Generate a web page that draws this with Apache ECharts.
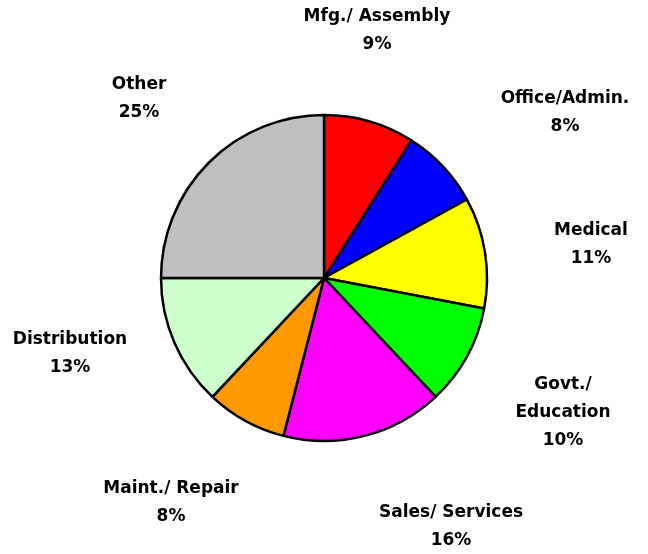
<!DOCTYPE html>
<html>
<head>
<meta charset="utf-8">
<script src="https://cdn.jsdelivr.net/npm/echarts@6/dist/echarts.min.js"></script>
<style>
    html, body { margin: 0; padding: 0; background: #fff; }
    #chart { width: 648px; height: 554px; }
</style>
</head>
<body>
<div id="chart"></div>
<script>
// sectors, clockwise from 12 o'clock
const categories = ['Mfg./ Assembly', 'Office/Admin.', 'Medical', 'Govt./\nEducation',
    'Sales/ Services', 'Maint./ Repair', 'Distribution', 'Other']
const shares = [9, 8, 11, 10, 16, 8, 13, 25]
const colors = ['#ff0000', '#0000ff', '#ffff00', '#00ff00', '#ff00ff', '#ff9900', '#ccffcc', '#c0c0c0']

// label centres (px)
const labelPos = [
    [377, 31], [565, 113], [591, 245], [563, 413],
    [451, 527], [171, 503], [70, 354], [139, 99]
]

const chart = echarts.init(document.getElementById('chart'))
const option = {
    animation: false,
    series: [{
        type: 'pie',
        center: [324, 278],
        radius: 163,
        startAngle: 90,
        clockwise: true,
        silent: true,
        itemStyle: {
            borderColor: '#000',
            borderWidth: 2.5
        },
        label: {
            show: true,
            formatter: p => p.name + '\n' + p.value + '%',
            fontFamily: 'DejaVu Sans, sans-serif',
            fontWeight: 'bold',
            fontSize: 17,
            lineHeight: 28,
            color: '#000',
            align: 'center'
        },
        labelLine: { show: false },
        labelLayout: params => ({
            x: labelPos[params.dataIndex][0],
            y: labelPos[params.dataIndex][1],
            align: 'center',
            verticalAlign: 'middle'
        }),
        data: categories.map((c, i) => ({
            name: c,
            value: shares[i],
            itemStyle: { color: colors[i] }
        }))
    }]
}
chart.setOption(option, true)
</script>
</body>
</html>
